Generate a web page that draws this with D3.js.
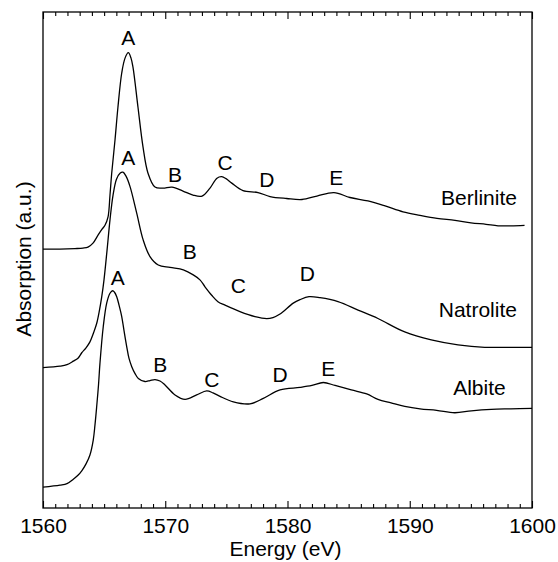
<!DOCTYPE html>
<html>
<head>
<meta charset="utf-8">
<script src="https://cdn.jsdelivr.net/npm/d3@7"></script>
<style>
  body { margin: 0; background: #fff; }
  svg { font-family: "Liberation Sans", Arial, Helvetica, sans-serif; }
</style>
</head>
<body>
<div id="chart"></div>
<script>
// energy (eV) / absorption (a.u., stacked with offsets)
var berliniteE = [1560.0, 1561.39, 1562.62, 1563.27, 1563.68, 1564.09, 1564.50, 1564.83, 1565.07, 1565.32,
  1565.48, 1565.62, 1565.89, 1566.13, 1566.44, 1566.71, 1566.98, 1567.20, 1567.36, 1567.77,
  1568.18, 1568.59, 1569.16, 1569.82, 1570.55, 1571.45, 1572.27, 1573.01, 1573.66, 1574.23,
  1574.62, 1574.97, 1575.44, 1576.36, 1577.59, 1578.57, 1579.93, 1581.19, 1582.41, 1583.80,
  1585.11, 1586.58, 1587.98, 1589.45, 1590.84, 1592.23, 1593.70, 1595.01, 1596.24, 1597.22,
  1598.28, 1599.39];
var berliniteA = [5.22, 5.22, 5.23, 5.24, 5.26, 5.34, 5.50, 5.62, 5.70, 5.87,
  6.31, 6.75, 7.42, 8.08, 8.77, 9.07, 9.18, 9.07, 8.89, 8.08,
  7.28, 6.75, 6.47, 6.45, 6.47, 6.39, 6.31, 6.29, 6.45, 6.65,
  6.68, 6.64, 6.55, 6.40, 6.36, 6.28, 6.24, 6.22, 6.29, 6.36,
  6.26, 6.19, 6.09, 5.97, 5.90, 5.84, 5.80, 5.75, 5.72, 5.69,
  5.69, 5.70];

var natroliteE = [1560.0, 1561.39, 1561.96, 1562.48, 1562.86, 1563.17, 1563.52, 1563.84, 1564.13, 1564.39,
  1564.62, 1564.80, 1564.99, 1565.24, 1565.48, 1565.73, 1566.01, 1566.30, 1566.54, 1566.79,
  1567.12, 1567.66, 1568.20, 1568.75, 1569.43, 1570.39, 1571.48, 1572.29, 1572.84, 1573.25,
  1573.80, 1574.31, 1574.89, 1576.11, 1577.34, 1578.30, 1578.81, 1579.39, 1580.47, 1581.02,
  1581.76, 1582.66, 1584.13, 1585.77, 1587.40, 1589.59, 1591.76, 1593.95, 1596.13, 1598.20,
  1600.0];
var natroliteA = [2.83, 2.86, 2.89, 2.96, 3.02, 3.13, 3.23, 3.35, 3.53, 3.72,
  3.99, 4.25, 4.60, 5.20, 5.81, 6.31, 6.63, 6.75, 6.77, 6.69,
  6.48, 5.95, 5.40, 5.07, 4.90, 4.85, 4.80, 4.70, 4.60, 4.46,
  4.29, 4.16, 4.09, 3.96, 3.86, 3.82, 3.84, 3.91, 4.13, 4.20,
  4.26, 4.24, 4.16, 3.99, 3.82, 3.55, 3.39, 3.29, 3.24, 3.24,
  3.24];

var albiteE = [1560.0, 1561.39, 1561.96, 1562.48, 1562.86, 1563.17, 1563.52, 1563.84, 1564.11, 1564.25,
  1564.39, 1564.54, 1564.66, 1564.93, 1565.21, 1565.48, 1565.70, 1565.85, 1566.03, 1566.22,
  1566.44, 1566.63, 1566.85, 1567.03, 1567.26, 1567.53, 1567.80, 1568.34, 1568.75, 1569.16,
  1569.57, 1569.98, 1570.80, 1571.62, 1572.57, 1573.39, 1573.91, 1574.48, 1575.57, 1576.93,
  1578.02, 1579.39, 1581.02, 1582.00, 1582.93, 1583.89, 1585.22, 1586.48, 1587.40, 1588.47,
  1589.59, 1590.84, 1592.20, 1593.68, 1595.04, 1596.67, 1598.28, 1600.0];
var albiteA = [0.42, 0.46, 0.49, 0.58, 0.66, 0.75, 0.89, 1.07, 1.37, 1.67,
  2.04, 2.48, 2.92, 3.66, 4.13, 4.33, 4.38, 4.35, 4.26, 4.09,
  3.86, 3.57, 3.25, 3.02, 2.85, 2.71, 2.61, 2.55, 2.57, 2.59,
  2.56, 2.48, 2.28, 2.19, 2.28, 2.36, 2.32, 2.25, 2.14, 2.10,
  2.21, 2.38, 2.43, 2.47, 2.53, 2.47, 2.38, 2.30, 2.19, 2.12,
  2.05, 2.00, 1.97, 1.92, 1.96, 1.99, 2.00, 2.01];

// peak letters: text, energy, absorption of label baseline
var peakLetters = ["A", "B", "C", "D", "E", "A", "B", "C", "D", "A", "B", "C", "D", "E"];
var peakE = [1566.98, 1570.80, 1574.89, 1578.30, 1583.99, 1566.98, 1572.00, 1575.98, 1581.62, 1566.12, 1569.60, 1573.82, 1579.39, 1583.34];
var peakA = [9.33, 6.57, 6.81, 6.48, 6.52, 6.92, 5.03, 4.33, 4.57, 4.49, 2.74, 2.44, 2.55, 2.66];

var sampleNames = ["Berlinite", "Natrolite", "Albite"];
var nameE = [1598.77, 1598.77, 1597.85];
var nameA = [6.11, 3.86, 2.28];

var xTicks = [1560, 1570, 1580, 1590, 1600];

var width = 558, height = 562;
var margin = { left: 43, right: 26, top: 12, bottom: 54 };
var plotW = width - margin.left - margin.right;
var plotH = height - margin.top - margin.bottom;

var svg = d3.select("#chart").append("svg")
  .attr("width", width)
  .attr("height", height);

var g = svg.append("g")
  .attr("transform", "translate(" + margin.left + "," + margin.top + ")");

var x = d3.scaleLinear().domain([1560, 1600]).range([0, plotW]);
var y = d3.scaleLinear().domain([0, 10]).range([plotH, 0]);

var line = d3.line()
  .x(function(d) { return x(d[0]); })
  .y(function(d) { return y(d[1]); })
  .curve(d3.curveCatmullRom.alpha(0.5));

var series = [d3.zip(berliniteE, berliniteA), d3.zip(natroliteE, natroliteA), d3.zip(albiteE, albiteA)];

g.selectAll("path.spectrum")
  .data(series)
  .enter().append("path")
    .attr("class", "spectrum")
    .attr("d", line)
    .attr("fill", "none")
    .attr("stroke", "#000")
    .attr("stroke-width", 1.3);

// minor ticks every 1 eV, inward, bottom and top
var minor = d3.range(1561, 1600, 1).filter(function(v) { return v % 10 !== 0; });

var bottomMinor = d3.axisBottom(x).tickValues(minor).tickSize(-4).tickFormat("");
var topMinor = d3.axisTop(x).tickValues(minor).tickSize(-4).tickFormat("");
var bottomMajor = d3.axisBottom(x).tickValues(xTicks).tickSize(-7).tickPadding(10).tickFormat(d3.format("d"));
var topMajor = d3.axisTop(x).tickValues(xTicks).tickSize(-7).tickFormat("");

[[bottomMinor, plotH], [bottomMajor, plotH], [topMinor, 0], [topMajor, 0]].forEach(function(a) {
  var ax = g.append("g")
    .attr("transform", "translate(0," + a[1] + ")")
    .call(a[0]);
  ax.select(".domain").remove();
  ax.selectAll("line").attr("stroke", "#000").attr("stroke-width", 1.1);
  ax.selectAll("text").attr("font-size", 21).attr("fill", "#000")
    .attr("font-family", "'Liberation Sans', Arial, sans-serif");
});

g.append("rect")
  .attr("width", plotW)
  .attr("height", plotH)
  .attr("fill", "none")
  .attr("stroke", "#000")
  .attr("stroke-width", 1.3);

g.selectAll("text.peak")
  .data(peakLetters)
  .enter().append("text")
    .attr("class", "peak")
    .attr("x", function(d, i) { return x(peakE[i]); })
    .attr("y", function(d, i) { return y(peakA[i]); })
    .attr("text-anchor", "middle")
    .attr("font-size", 21)
    .text(function(d) { return d; });

g.selectAll("text.name")
  .data(sampleNames)
  .enter().append("text")
    .attr("class", "name")
    .attr("x", function(d, i) { return x(nameE[i]); })
    .attr("y", function(d, i) { return y(nameA[i]); })
    .attr("text-anchor", "end")
    .attr("font-size", 21)
    .text(function(d) { return d; });

svg.append("text")
  .attr("x", margin.left + plotW / 2 - 2)
  .attr("y", 556)
  .attr("text-anchor", "middle")
  .attr("font-size", 21)
  .text("Energy (eV)");

svg.append("text")
  .attr("transform", "translate(31," + (margin.top + 247) + ") rotate(-90)")
  .attr("text-anchor", "middle")
  .attr("font-size", 21)
  .text("Absorption (a.u.)");
</script>
</body>
</html>
